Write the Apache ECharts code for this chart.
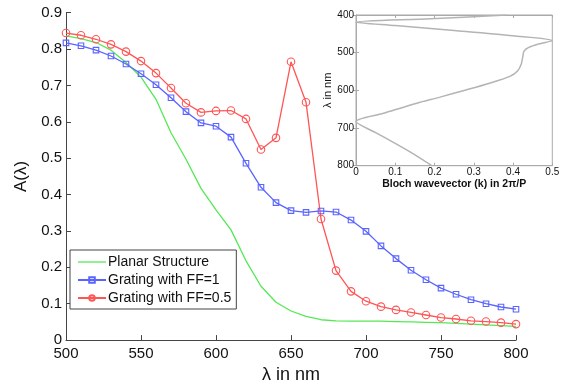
<!DOCTYPE html>
<html>
<head>
<meta charset="utf-8">
<script src="https://cdn.jsdelivr.net/npm/echarts@6/dist/echarts.min.js"></script>
<style>
  html, body { margin: 0; padding: 0; background: #fff; }
  #chart { width: 565px; height: 389px; }
</style>
</head>
<body>
<div id="chart"></div>
<script>
// wavelengths (nm), one point every 10 nm
const wavelengths = [500, 510, 520, 530, 540, 550, 560, 570, 580, 590, 600, 610, 620, 630, 640, 650,
  660, 670, 680, 690, 700, 710, 720, 730, 740, 750, 760, 770, 780, 790, 800];

const planar = [0.836, 0.829, 0.818, 0.797, 0.763, 0.723, 0.662, 0.570, 0.497, 0.417, 0.358, 0.303,
  0.218, 0.148, 0.104, 0.080, 0.065, 0.056, 0.053, 0.052, 0.052, 0.052, 0.051, 0.050, 0.049, 0.048,
  0.046, 0.044, 0.042, 0.040, 0.038];

const ff1 = [0.817, 0.809, 0.797, 0.781, 0.759, 0.732, 0.702, 0.666, 0.628, 0.597, 0.588, 0.558,
  0.486, 0.420, 0.378, 0.356, 0.351, 0.355, 0.352, 0.330, 0.299, 0.259, 0.224, 0.192, 0.166, 0.143,
  0.126, 0.111, 0.100, 0.091, 0.085];

const ff05 = [0.844, 0.838, 0.827, 0.813, 0.793, 0.767, 0.734, 0.693, 0.651, 0.626, 0.630, 0.631,
  0.608, 0.524, 0.556, 0.765, 0.654, 0.333, 0.191, 0.134, 0.107, 0.092, 0.083, 0.076, 0.069, 0.062,
  0.058, 0.053, 0.051, 0.048, 0.044];

// inset: band diagram, Bloch wavevector vs wavelength (one folded path)
const insetK = [0.384, 0.19, 0, 0.1, 0.25, 0.4, 0.5, 0.465, 0.44, 0.428, 0.425, 0.421, 0.412, 0.392,
  0.34, 0.28, 0.214, 0.155, 0.07, 0, 0.05, 0.095, 0.145, 0.193];
const insetLambda = [400, 410, 419, 428, 441, 455, 468, 477, 486, 496, 510, 530, 548, 563,
  581, 599, 618, 634, 661, 683, 712, 738, 768, 800];

const mainTicks = { min: 0, max: 0.9, interval: 0.1 };

const font = 'Liberation Sans, Arial, Helvetica, sans-serif';

function pairs(xs, ys) {
  return xs.map((x, i) => [x, ys[i]]);
}

const chart = echarts.init(document.getElementById('chart'));

const option = {
  animation: false,
  backgroundColor: '#fff',
  textStyle: { fontFamily: font },
  grid: [
    { left: 66, top: 12.7, width: 450, height: 333 },
    { left: 356, top: 15, width: 196.3, height: 150.7, show: true, backgroundColor: '#fff', borderColor: '#aaa', borderWidth: 1, z: 5 },
  ],
  legend: {
    orient: 'vertical',
    left: 70,
    top: 250,
    padding: [5, 5, 4, 7],
    itemWidth: 28,
    itemHeight: 7,
    itemGap: 4,
    borderColor: '#444',
    borderWidth: 1,
    backgroundColor: '#fff',
    textStyle: { fontSize: 14, color: '#111', fontFamily: font, padding: [0, 0, 0, -3] },
    data: [
      { name: 'Planar Structure', icon: 'path://M0,0h28v1.3h-28z' },
      'Grating with FF=1',
      'Grating with FF=0.5',
    ],
  },
  xAxis: [
    {
      type: 'value',
      gridIndex: 0,
      min: 500,
      max: 800,
      interval: 50,
      name: 'λ in nm',
      nameLocation: 'middle',
      nameGap: 23,
      nameTextStyle: { fontSize: 18, color: '#111' },
      axisLine: { lineStyle: { color: '#444' } },
      axisTick: { inside: true, length: 5, lineStyle: { color: '#444' } },
      axisLabel: { fontSize: 15, color: '#111', margin: 6 },
      splitLine: { show: false },
    },
    {
      type: 'value',
      gridIndex: 1,
      min: 0,
      max: 0.5,
      interval: 0.1,
      name: 'Bloch wavevector (k) in 2π/P',
      nameLocation: 'middle',
      nameGap: 11,
      nameTextStyle: { fontSize: 10.5, fontWeight: 'bold', color: '#111' },
      axisLine: { lineStyle: { color: '#aaa' } },
      axisTick: { inside: true, length: 3, lineStyle: { color: '#aaa' } },
      axisLabel: { fontSize: 10, color: '#111', margin: 2 },
      splitLine: { show: false },
      z: 6,
    },
    {
      type: 'value',
      gridIndex: 1,
      position: 'top',
      min: 0,
      max: 0.5,
      interval: 0.1,
      axisLine: { lineStyle: { color: '#aaa' } },
      axisTick: { inside: true, length: 3, lineStyle: { color: '#aaa' } },
      axisLabel: { show: false },
      splitLine: { show: false },
      z: 6,
    },
  ],
  yAxis: [
    {
      type: 'value',
      gridIndex: 0,
      min: mainTicks.min,
      max: mainTicks.max,
      interval: mainTicks.interval,
      name: 'A(λ)',
      nameLocation: 'middle',
      nameGap: 28,
      nameTextStyle: { fontSize: 17, color: '#111' },
      axisLine: { show: true, lineStyle: { color: '#444' } },
      axisTick: { show: true, inside: true, length: 5, lineStyle: { color: '#444' } },
      axisLabel: { fontSize: 15, color: '#111', margin: 4 },
      splitLine: { show: false },
    },
    {
      type: 'value',
      gridIndex: 1,
      inverse: true,
      min: 400,
      max: 800,
      interval: 100,
      name: 'λ in nm',
      nameLocation: 'middle',
      nameGap: 23,
      nameTextStyle: { fontSize: 11, color: '#111' },
      axisLine: { show: true, lineStyle: { color: '#aaa' } },
      axisTick: { show: true, inside: true, length: 3, lineStyle: { color: '#aaa' } },
      axisLabel: { fontSize: 10, color: '#111', margin: 2 },
      splitLine: { show: false },
      z: 6,
    },
    {
      type: 'value',
      gridIndex: 1,
      position: 'right',
      inverse: true,
      min: 400,
      max: 800,
      interval: 100,
      axisLine: { show: true, lineStyle: { color: '#aaa' } },
      axisTick: { show: true, inside: true, length: 3, lineStyle: { color: '#aaa' } },
      axisLabel: { show: false },
      splitLine: { show: false },
      z: 6,
    },
  ],
  series: [
    {
      name: 'Planar Structure',
      type: 'line',
      xAxisIndex: 0,
      yAxisIndex: 0,
      symbol: 'none',
      color: '#55e855',
      lineStyle: { width: 1.3, color: '#55e855' },
      data: pairs(wavelengths, planar),
    },
    {
      name: 'Grating with FF=1',
      type: 'line',
      xAxisIndex: 0,
      yAxisIndex: 0,
      symbol: 'rect',
      symbolSize: 5.5,
      lineStyle: { width: 1.3, color: '#5a64ff' },
      itemStyle: { color: 'rgba(255,255,255,0)', borderColor: '#5a64ff', borderWidth: 1.1 },
      data: pairs(wavelengths, ff1),
    },
    {
      name: 'Grating with FF=0.5',
      type: 'line',
      xAxisIndex: 0,
      yAxisIndex: 0,
      symbol: 'circle',
      symbolSize: 7.5,
      lineStyle: { width: 1.3, color: '#ff5555' },
      itemStyle: { color: 'rgba(255,255,255,0)', borderColor: '#ff5555', borderWidth: 1.1 },
      data: pairs(wavelengths, ff05),
    },
    {
      name: 'band',
      type: 'line',
      xAxisIndex: 1,
      yAxisIndex: 1,
      symbol: 'none',
      smooth: 0.3,
      color: '#b4b4b4',
      lineStyle: { width: 1.5, color: '#b4b4b4' },
      data: pairs(insetK, insetLambda),
      z: 7,
    },
  ],
};

chart.setOption(option);
</script>
</body>
</html>
